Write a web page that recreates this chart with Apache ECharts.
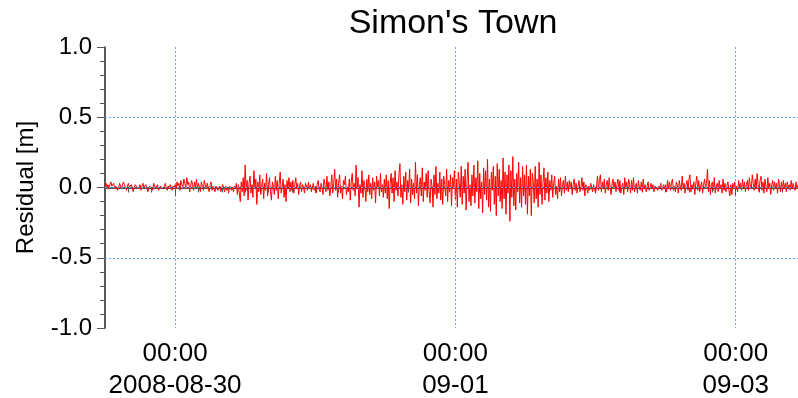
<!DOCTYPE html>
<html><head><meta charset="utf-8">
<script src="https://cdn.jsdelivr.net/npm/echarts@6/dist/echarts.min.js"></script>
<style>html,body{margin:0;padding:0;background:#fff}#c{width:798px;height:398px}</style>
</head><body><div id="c"></div>
<script>
const chartTitle = "Simon's Town";
const yAxisName = 'Residual [m]';
const startTime = Date.UTC(2008, 7, 29, 12, 0);
const stepMinutes = 10;
const residual = [
 0.01,0.03,0.00,0.02,-0.01,0.02,0.04,0.01,0.00,0.03,
 -0.01,0.01,0.02,-0.02,0.00,0.03,0.01,-0.01,0.02,0.04,
 0.02,0.00,-0.02,0.01,0.03,0.00,-0.01,0.02,0.01,-0.03,
 0.00,0.02,0.03,0.01,-0.01,0.00,0.02,-0.02,0.01,0.03,
 0.00,-0.01,0.02,0.01,-0.03,-0.01,0.01,0.02,0.00,-0.02,
 0.03,0.01,-0.01,0.00,0.02,-0.02,-0.03,0.01,0.00,0.02,
 -0.01,0.01,0.03,0.00,-0.02,0.01,-0.01,0.02,0.00,-0.02,
 0.01,-0.01,
 0.02,-0.01,0.04,0.01,0.03,-0.02,0.05,0.02,0.00,0.06,
 0.03,-0.01,0.07,0.02,0.04,-0.03,0.01,0.05,0.02,-0.02,
 0.04,0.00,0.06,-0.01,0.03,0.02,-0.03,0.04,0.01,-0.02,
 0.05,0.02,-0.01,0.03,0.00,-0.03,0.02,0.04,-0.02,0.01,
 0.00,-0.03,0.01,0.02,-0.02,-0.01,0.01,-0.03,0.00,0.02,
 -0.01,-0.03,0.01,-0.02,0.00,-0.04,0.01,0.02,-0.02,0.00,
 -0.03,0.01,-0.01,0.03,-0.05,0.02,-0.04,-0.10,0.04,
 -0.03,0.07,-0.06,0.16,-0.02,0.05,-0.09,0.03,0.08,-0.04,
 0.02,-0.07,0.12,0.00,0.06,-0.12,0.04,-0.03,0.09,-0.05,
 0.01,0.06,-0.08,0.03,-0.02,0.10,-0.06,0.02,0.07,-0.03,
 -0.09,0.04,0.01,-0.05,0.08,-0.02,0.05,-0.08,0.03,0.11,
 -0.04,0.00,0.06,-0.07,0.02,-0.10,0.05,-0.01,0.07,-0.03,
 0.04,
 -0.02,0.05,-0.04,0.02,0.07,-0.01,0.03,-0.05,0.01,0.04,
 -0.03,0.02,0.00,-0.04,0.03,0.01,-0.02,0.04,-0.01,0.02,
 -0.03,0.00,0.03,-0.02,0.01,-0.04,0.02,0.05,-0.01,-0.03,
 0.03,0.00,-0.05,0.06,0.02,-0.03,0.08,-0.02,0.04,-0.06,
 0.01,0.09,-0.04,0.03,
 0.13,-0.02,0.06,-0.07,0.03,0.09,-0.04,0.01,-0.08,0.05,
 0.02,0.08,-0.05,0.00,-0.03,0.06,-0.09,0.04,0.10,-0.02,
 0.03,-0.06,0.16,-0.01,0.07,-0.14,0.02,-0.04,0.12,-0.07,
 0.05,0.01,-0.10,0.06,-0.03,0.09,-0.05,0.03,-0.08,0.07,
 -0.02,0.04,-0.11,0.08,0.00,0.05,-0.06,0.10,-0.03,0.02,
 -0.07,0.06,-0.04,0.09,
 -0.08,0.05,-0.15,0.03,0.10,-0.04,0.07,-0.10,0.12,-0.02,
 0.04,-0.06,0.09,0.17,-0.07,0.02,-0.12,0.08,-0.03,0.11,
 -0.09,0.05,-0.01,0.13,-0.11,0.06,-0.05,0.03,-0.08,0.18,
 -0.04,0.09,-0.13,0.02,0.07,-0.06,0.14,-0.10,0.04,-0.02,
 0.10,-0.07,0.12,-0.03,-0.11,0.06,0.01,-0.14,0.09,-0.05,
 0.15,-0.08,0.03,-0.04,0.11,-0.09,0.06,-0.12,0.08,0.02,
 -0.06,0.13,-0.10,0.05,-0.03,0.09,-0.13,0.07,-0.01,0.12,
 -0.09,0.06,-0.14,0.11,0.03,-0.07,0.15,-0.12,0.08,-0.04,
 0.13,-0.16,0.05,0.18,-0.10,0.02,-0.13,0.09,-0.06,0.16,
 -0.11,0.07,-0.03,0.19,-0.15,0.10,-0.08,0.04,-0.18,0.14,
 -0.05,0.12,-0.09,0.20,-0.14,0.06,-0.17,0.11,-0.02,0.15,
 -0.12,0.08,-0.20,0.17,-0.06,0.13,-0.10,0.05,-0.15,0.21,
 -0.08,0.11,-0.19,0.09,-0.04,0.16,-0.24,0.12,-0.07,0.22,
 -0.13,0.06,-0.16,0.10,-0.03,0.18,-0.11,0.07,-0.14,0.15,
 -0.06,0.09,
 -0.12,0.16,-0.19,0.08,-0.06,0.13,-0.20,0.10,0.04,-0.11,
 0.15,-0.08,0.06,-0.14,0.18,-0.05,0.09,-0.12,0.03,0.14,
 -0.09,0.07,-0.04,0.11,-0.10,0.05,-0.02,0.09,-0.07,0.03,
 0.08,-0.05,0.01,-0.08,0.06,-0.03,0.07,-0.06,0.02,0.05,
 -0.04,0.08,-0.02,0.04,
 -0.03,0.05,-0.01,0.04,-0.05,0.02,0.06,-0.02,0.03,-0.04,
 0.01,0.05,-0.03,0.00,0.07,-0.02,0.04,-0.06,0.02,-0.01,
 -0.04,0.01,-0.02,0.03,0.00,-0.03,0.02,-0.01,-0.04,0.01,
 0.08,-0.02,0.05,0.09,-0.03,0.04,-0.01,0.06,-0.04,0.02,
 0.05,-0.02,0.07,0.00,-0.05,0.03,0.06,-0.01,0.04,-0.03,
 0.02,0.06,-0.02,0.05,-0.04,0.01,0.03,-0.05,0.07,-0.01,
 0.04,-0.03,0.06,0.02,-0.04,0.05,-0.02,0.07,-0.03,0.01,
 0.03,-0.04,0.05,0.00,-0.02,0.04,-0.03,0.06,-0.01,0.02,
 -0.03,0.01,0.04,-0.02,0.00,0.03,-0.01,0.02,-0.03,0.01,
 0.00,0.02,-0.02,0.01,-0.01,0.03,-0.02,0.00,0.02,-0.01,
 0.02,-0.03,0.05,-0.01,0.04,-0.02,0.03,0.06,-0.02,0.01,
 -0.03,0.04,0.02,-0.04,0.05,0.01,-0.02,0.08,-0.01,0.03,
 -0.04,0.02,0.05,-0.02,0.06,0.09,-0.03,0.02,-0.01,0.04,
 -0.05,0.03,0.08,-0.02,0.05,-0.03,0.01,0.04,-0.04,0.02,
 0.06,-0.01,0.03,0.13,-0.03,0.05,-0.05,0.02,0.04,-0.02,
 0.07,-0.04,0.01,0.03,-0.03,0.05,-0.01,0.02,-0.04,0.06,
 -0.02,0.03,-0.03,0.01,0.04,-0.02,-0.06,0.02,-0.05,0.03,
 -0.01,0.04,-0.02,0.01,-0.03,0.05,0.00,0.03,-0.02,0.06,
 -0.01,0.04,-0.03,0.02,0.05,-0.02,0.07,0.01,-0.01,0.09,
 0.03,-0.02,0.06,-0.01,0.10,0.02,-0.03,0.05,0.08,-0.02,
 0.04,-0.04,0.06,0.01,-0.03,0.07,-0.01,0.03,-0.05,0.02,
 0.05,-0.02,0.04,-0.01,0.03,-0.04,0.06,0.02,-0.03,0.04,
 -0.02,0.05,-0.01,0.03,-0.03,0.04,0.00,0.02,-0.02,0.05,
 -0.01,0.03,0.00,-0.02,0.04,-0.01,0.02
];
const xTickTimes = [Date.UTC(2008, 7, 30), Date.UTC(2008, 8, 1), Date.UTC(2008, 8, 3)];
const xTickLabels = ['00:00\n2008-08-30', '00:00\n09-01', '00:00\n09-03'];
const minorTickHours = 4;
const yGridMin = -0.5, yGridMax = 0.5;

const HOUR = 3600000;
const data = residual.map((v, i) => [startTime + i * stepMinutes * 60000, v]);
const xMin = startTime;
const xMax = startTime + (residual.length - 1) * stepMinutes * 60000;
const minorTicks = [];
for (let t = xMin; t <= xMax; t += minorTickHours * HOUR) minorTicks.push(t);

const W = 798, H = 398;
const plot = {left: 105, right: 798, top: 47, bottom: 328};
const yMin = -1, yMax = 1;
const xPix = t => plot.left + (t - xMin) / (xMax - xMin) * (plot.right - plot.left);
const yPix = v => plot.top + (yMax - v) / (yMax - yMin) * (plot.bottom - plot.top);

const font = "'Liberation Sans', Arial, sans-serif";
const gridColor = '#6aa6ea';
const axisColor = '#222';
const gridLine = {show: true, lineStyle: {color: gridColor, type: [2, 2], width: 1}};
const baseGrid = {outerBoundsMode: 'none', containLabel: false};

const chart = echarts.init(document.getElementById('c'), null, {renderer: 'canvas'});
chart.setOption({
  animation: false,
  backgroundColor: '#fff',
  title: {
    text: chartTitle, left: 448, top: 2, textAlign: 'center',
    textStyle: {fontFamily: font, fontSize: 34, fontWeight: 'normal', color: '#000'}
  },
  grid: [
    Object.assign({left: plot.left, right: W - plot.right, top: plot.top, bottom: H - plot.bottom}, baseGrid),
    Object.assign({left: xPix(xTickTimes[0]), right: W - xPix(xTickTimes[xTickTimes.length - 1]), top: plot.top, bottom: H - plot.bottom}, baseGrid),
    Object.assign({left: plot.left, right: W - plot.right, top: yPix(yGridMax), bottom: H - yPix(yGridMin)}, baseGrid)
  ],
  xAxis: [{
    type: 'value', gridIndex: 0, min: xMin, max: xMax,
    axisLine: {show: true, lineStyle: {color: axisColor, width: 1.5}},
    axisTick: {show: true, length: 5, customValues: minorTicks, lineStyle: {color: '#555'}},
    axisLabel: {
      show: true, customValues: xTickTimes, margin: 10,
      fontFamily: font, fontSize: 26, lineHeight: 32, color: '#000',
      formatter: (v) => { const k = xTickTimes.indexOf(v); return k >= 0 ? xTickLabels[k] : ''; }
    },
    splitLine: {show: false}
  }, {
    type: 'value', gridIndex: 1, min: xTickTimes[0], max: xTickTimes[xTickTimes.length - 1],
    interval: xTickTimes[1] - xTickTimes[0], z: 5,
    axisLine: {show: false},
    axisTick: {show: true, length: 8, lineStyle: {color: '#555'}},
    axisLabel: {show: false},
    splitLine: gridLine
  }, {
    type: 'value', gridIndex: 2, min: xMin, max: xMax, show: false
  }],
  yAxis: [{
    type: 'value', gridIndex: 0, min: yMin, max: yMax, interval: 0.5,
    name: yAxisName, nameLocation: 'middle', nameGap: 67,
    nameTextStyle: {fontFamily: font, fontSize: 24, color: '#000'},
    axisLine: {show: true, lineStyle: {color: axisColor, width: 1.5}},
    axisTick: {show: true, length: 8, lineStyle: {color: '#555'}},
    minorTick: {show: true, splitNumber: 5, length: 5, lineStyle: {color: '#555'}},
    axisLabel: {fontFamily: font, fontSize: 24, color: '#000', margin: 13, formatter: (v) => v.toFixed(1)},
    splitLine: {show: false}
  }, {
    type: 'value', gridIndex: 1, min: yMin, max: yMax, show: false
  }, {
    type: 'value', gridIndex: 2, min: yGridMin, max: yGridMax, interval: 0.5, z: 5,
    axisLine: {show: false}, axisTick: {show: false}, axisLabel: {show: false},
    splitLine: gridLine
  }],
  series: [{
    type: 'line', xAxisIndex: 0, yAxisIndex: 0, data: data,
    showSymbol: false, symbol: 'none',
    lineStyle: {color: '#ff0000', width: 1},
    clip: true
  }]
});
</script></body></html>
